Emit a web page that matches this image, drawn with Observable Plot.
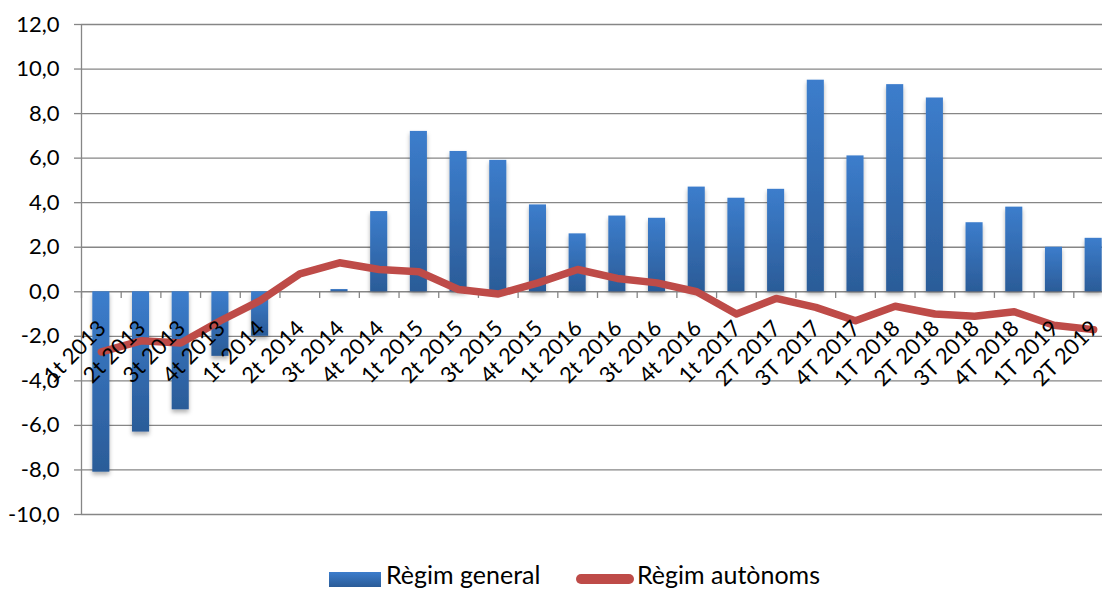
<!DOCTYPE html>
<html><head><meta charset="utf-8">
<script src="https://cdn.jsdelivr.net/npm/d3@7"></script>
<script src="https://cdn.jsdelivr.net/npm/@observablehq/plot@0.6"></script>
<style>
html,body{margin:0;padding:0;background:#fff;overflow:hidden;width:1102px;height:590px;}
#chart svg{overflow:hidden;display:block;}
#legend{position:relative;height:35px;font-family:Lato,sans-serif;font-size:25px;color:#000;}
#legend .sw1{position:absolute;left:329px;top:17px;width:52px;height:15px;background:linear-gradient(#3C7DCC,#2B5C98);}
#legend .sw2{position:absolute;left:576px;top:19px;width:58px;height:10px;border-radius:5px;background:#BE4B48;}
#legend .t{position:absolute;top:4px;white-space:nowrap;}
</style></head><body>
<div id="chart"></div>
<div id="legend"><div class="sw1"></div><span class="t" style="left:386px">Règim general</span><div class="sw2"></div><span class="t" style="left:637px">Règim autònoms</span></div>
<script>
const categories = ["1t 2013","2t 2013","3t 2013","4t 2013","1t 2014","2t 2014","3t 2014","4t 2014","1t 2015","2t 2015","3t 2015","4t 2015","1t 2016","2t 2016","3t 2016","4t 2016","1t 2017","2T 2017","3T 2017","4T 2017","1T 2018","2T 2018","3T 2018","4T 2018","1T 2019","2T 2019"];
const regimGeneral = [-8.1,-6.3,-5.3,-2.9,-2.0,0.0,0.1,3.6,7.2,6.3,5.9,3.9,2.6,3.4,3.3,4.7,4.2,4.6,9.5,6.1,9.3,8.7,3.1,3.8,2.0,2.4];
const regimAutonoms = [-2.7,-2.2,-2.3,-1.3,-0.4,0.8,1.3,1.0,0.9,0.1,-0.1,0.4,1.0,0.6,0.4,0.0,-1.0,-0.3,-0.7,-1.3,-0.65,-1.0,-1.1,-0.9,-1.5,-1.7];
const yTicks = [-10,-8,-6,-4,-2,0,2,4,6,8,10,12];

const data = categories.map((c, i) => ({cat: c, general: regimGeneral[i], autonoms: regimAutonoms[i]}));

const W = 1102, H = 555;
const x0 = 81, x1 = 1113;
const step = (x1 - x0) / categories.length;
const gridColor = "#868686";

const chart = Plot.plot({
  width: W, height: H,
  marginLeft: x0, marginRight: 0, marginTop: 24, marginBottom: 41,
  style: {fontFamily: "Lato, sans-serif", fontSize: "22px", background: "#fff", color: "#000"},
  x: {type: "band", domain: categories, range: [x0, x1], round: false, paddingInner: 0.57, paddingOuter: 0.285, align: 0.5, axis: null},
  y: {domain: [-10, 12], ticks: yTicks, tickFormat: d => d.toFixed(1).replace(".", ","), tickSize: 7, tickPadding: 15, label: null, axis: "left"},
  marks: [
    Plot.ruleY(yTicks, {stroke: gridColor, strokeWidth: 1.3}),
    Plot.ruleX([categories[0]], {x: d => d, y1: () => -10, y2: () => 12, dx: -step / 2, stroke: gridColor, strokeWidth: 1.3}),
    Plot.ruleX(categories, {x: d => d, y1: () => 0, y2: () => -0.3, dx: -step / 2, stroke: gridColor, strokeWidth: 1.3}),
    Plot.barY(data, {x: "cat", y: "general", fill: "#3A78C6"}),
    Plot.line(data, {x: "cat", y: "autonoms", stroke: "#BE4B48", strokeWidth: 7.5, strokeLinecap: "round", strokeLinejoin: "round"}),
    Plot.text(categories, {x: d => d, y: () => 0, text: d => d, rotate: -45, textAnchor: "end", dx: 1, dy: 33, fill: "#000", fontSize: 22})
  ]
});
document.getElementById("chart").appendChild(chart);

const svg = d3.select(chart);
const defs = svg.insert("defs", ":first-child");
const g = defs.append("linearGradient").attr("id", "barGrad").attr("x1", 0).attr("y1", 0).attr("x2", 0).attr("y2", 1);
g.append("stop").attr("offset", "0%").attr("stop-color", "#3C7DCC");
g.append("stop").attr("offset", "100%").attr("stop-color", "#2B5C98");
const f = defs.append("filter").attr("id", "barShadow").attr("x", "-50%").attr("y", "-20%").attr("width", "200%").attr("height", "140%");
f.append("feDropShadow").attr("dx", 0).attr("dy", 3).attr("stdDeviation", 2).attr("flood-color", "#000").attr("flood-opacity", 0.3);
svg.selectAll("rect").filter(function() { return d3.select(this).attr("fill") === "#3A78C6"; })
  .attr("fill", "url(#barGrad)");
svg.selectAll("g").filter(function() { return d3.select(this).attr("fill") === "#3A78C6"; })
  .attr("fill", "url(#barGrad)").attr("filter", "url(#barShadow)");
svg.selectAll("[aria-label='y-axis tick'] path, [aria-label='y-axis'] line, [aria-label='y-axis'] path").attr("stroke", gridColor).attr("stroke-width", 1.3);
</script>
</body></html>
